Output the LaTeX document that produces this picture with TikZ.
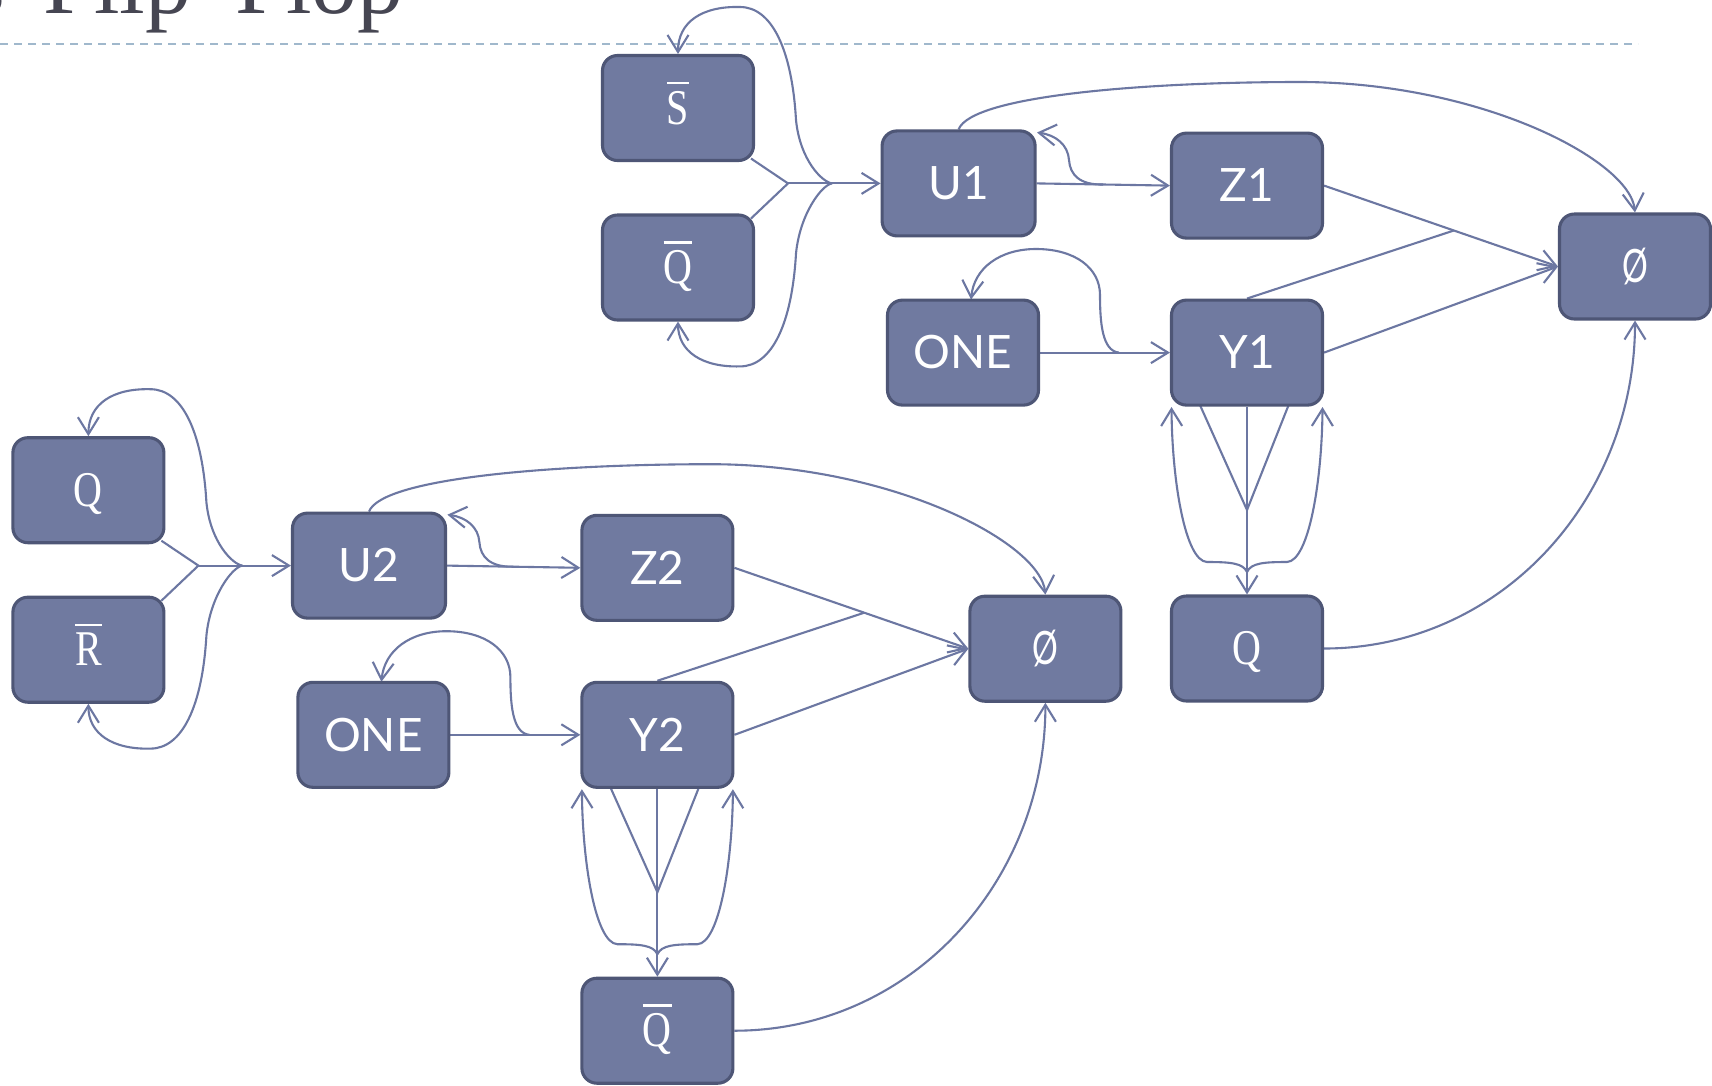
\documentclass[tikz,border=0pt]{standalone}
\usepackage{fontspec}
\setmainfont{Liberation Serif}
\newfontfamily\lblfont{Lato}
\usetikzlibrary{arrows.meta,calc}
\definecolor{boxfill}{RGB}{112,122,160}
\definecolor{boxborder}{RGB}{78,86,118}
\definecolor{edgecol}{RGB}{108,119,162}
\definecolor{dashcol}{RGB}{160,184,204}
\definecolor{titlecol}{RGB}{70,70,82}
\pgfdeclarelayer{deep}
\pgfdeclarelayer{edges}
\pgfsetlayers{deep,edges,main}
\newcommand\ovl[1]{\leavevmode\vbox{\hrule height 2.4pt\kern7pt\hbox{#1}}}
\newcommand\serlab[1]{{\rmfamily\fontsize{50}{54}\selectfont\scalebox{0.8}[1]{#1}}}
\newcommand\emptylab{\scalebox{0.7}[1]{Ø}}
\tikzset{
  box/.style={draw=boxborder, fill=boxfill, line width=3.1pt, rounded corners=15pt,
    minimum width=151pt, minimum height=105pt, inner sep=0pt, text=white,
    font=\lblfont\fontsize{46}{50}\selectfont, text height=32.5pt, text depth=0pt},
  conn/.style={draw=edgecol, line width=2.1pt},
  arr/.style={-{Straight Barb[length=17pt,width=21pt]}},
}
% #1 prefix, #2 upper input, #3 lower input, #4 digit, #5 output label
\newcommand{\ffgroup}[5]{%
  \node[box] (#1a) at (678,108) {#2};
  \node[box] (#1b) at (678,267.5) {#3};
  \node[box, minimum width=153pt] (#1u) at (958.6,183.4) {U#4};
  \node[box] (#1z) at (1247,185.6) {Z#4};
  \node[box] (#1o) at (963,352.6) {ONE};
  \node[box] (#1y) at (1247,352.6) {Y#4};
  \node[box] (#1p) at (1635,266.5) {\emptylab};
  \node[box] (#1q) at (1247,648.5) {#5};
  \coordinate (#1ja) at (751,158.5);
  \coordinate (#1jb) at (751,218.5);
  \coordinate (#1j1) at (788,183.4);
  \coordinate (#1j2) at (832,183.4);
  \coordinate (#1ub) at (1103,184.5);
  \coordinate (#1ut) at (1037,132.5);
  \coordinate (#1jz) at ($(#1z.east)!0.555!(#1p.west)$);
  \coordinate (#1ob) at (1119,352.6);
  \coordinate (#1ot) at (971,299.5);
  \coordinate (#1yl) at (1199.5,404);
  \coordinate (#1yr) at (1289,404);
  \coordinate (#1yf) at (1247,510);
  \coordinate (#1yb) at (1247,572);
  \coordinate (#1ylt) at (1171.5,407);
  \coordinate (#1yrt) at (1322.5,407);
  \begin{pgfonlayer}{edges}
    \draw[conn] (#1ja) -- (#1j1) -- (#1jb);
    \draw[conn,arr] (#1j1) -- (#1u.west);
    \draw[conn,arr] (#1j2) .. controls (822,182) and (800,160) .. (796,120)
      .. controls (792,50) and (772,7) .. (740,7)
      .. controls (702,6) and (678,22) .. (#1a.north);
    \draw[conn,arr] (#1j2) .. controls (822,184.8) and (800,213.4) .. (796,253.4)
      .. controls (792,323.4) and (772,366.4) .. (740,366.4)
      .. controls (702,367.4) and (678,351.4) .. (#1b.south);
    \draw[conn,arr] (#1u.east) -- (#1z.west);
    \draw[conn,arr] (#1ub) .. controls (1080,185) and (1070,175) .. (1069,160)
      .. controls (1068,145) and (1056,135) .. (#1ut);
    \draw[conn,arr] (#1u.north) .. controls (972,95) and (1150,82) .. (1300,82)
      .. controls (1480,82) and (1630,160) .. (#1p.north);
    \draw[conn,arr] (#1z.east) -- (#1p.west);
    \draw[conn,arr] (#1y.east) -- (#1p.west);
    \draw[conn] (#1y.north) -- (#1jz);
    \draw[conn,arr] (#1o.east) -- (#1y.west);
    \draw[conn,arr] (#1ob) .. controls (1102,351) and (1100,322) .. (1100,295)
      .. controls (1100,268) and (1075,249) .. (1036,249)
      .. controls (1000,249) and (974,268) .. (#1ot);
    \draw[conn] (#1yl) -- (#1yf) -- (#1yr);
    \draw[conn,arr] (#1y.south) -- (#1q.north);
    \draw[conn,arr] (#1yb) .. controls (1243,563) and (1230,562) .. (1207,562)
      .. controls (1185,561) and (1172,480) .. (#1ylt);
    \draw[conn,arr] (#1yb) .. controls (1251,563) and (1264,562) .. (1287,562)
      .. controls (1309,561) and (1322,480) .. (#1yrt);
    \draw[conn,arr] (#1q.east) .. controls (1500,648.5) and (1635,500) .. (#1p.south);
  \end{pgfonlayer}%
}
\begin{document}
\begin{tikzpicture}[x=1pt,y=-1pt]
  \useasboundingbox (0,0) rectangle (1712,1085);
  \begin{pgfonlayer}{deep}
    \fill[white] (0,0) rectangle (1712,1085);
    \draw[dashcol, line width=2.4pt, dash pattern=on 8pt off 6pt] (0,43.8) -- (1638,43.8);
  \end{pgfonlayer}
  \begin{scope}
    \clip (0,0) rectangle (1712,1085);
    \node[anchor=base west, inner sep=0pt, text=titlecol, font=\rmfamily\fontsize{92}{96}\selectfont]
      (title) at (43,13) {\llap{s\kern38pt}Flip\kern6pt-\kern7pt Flop};
  \end{scope}
  \ffgroup{t}{\serlab{\ovl{S}}}{\serlab{\ovl{Q}}}{1}{\serlab{Q}}
  \begin{scope}[shift={(-589.6,382.2)}]
    \ffgroup{b}{\serlab{Q}}{\serlab{\ovl{R}}}{2}{\serlab{\ovl{Q}}}
  \end{scope}
\end{tikzpicture}
\end{document}
